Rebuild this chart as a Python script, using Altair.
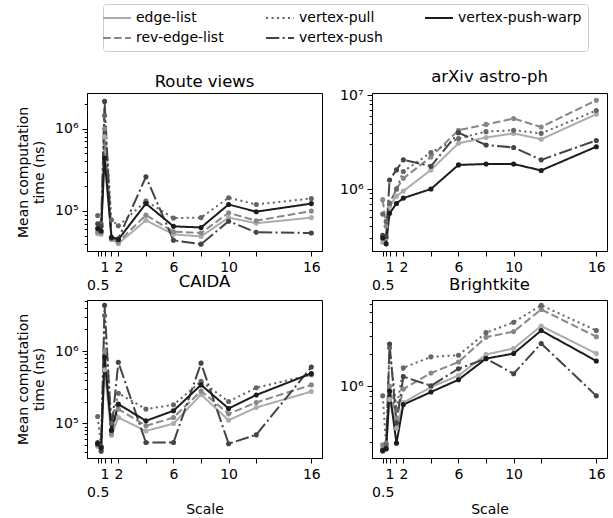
import altair as alt
import pandas as pd

# ---------------- data ----------------
X = [0.5, 0.75, 1, 1.5, 2, 4, 6, 8, 10, 12, 16]
SERIES = ["edge-list", "rev-edge-list", "vertex-pull", "vertex-push", "vertex-push-warp"]
PANELS = ["Route views", "arXiv astro-ph", "CAIDA", "Brightkite"]
X_LABELS = [1, 2, 6, 10, 16]

route_edge_list = [5.3e4, 5.2e4, 8.0e5, 4.5e4, 4.0e4, 7.7e4, 5.2e4, 4.9e4, 8.3e4, 7.1e4, 8.3e4]
route_rev_edge_list = [5.6e4, 5.5e4, 1.0e6, 4.6e4, 4.2e4, 8.9e4, 5.6e4, 5.4e4, 9.5e4, 7.6e4, 1.0e5]
route_vertex_pull = [8.8e4, 7.0e4, 1.45e6, 7.8e4, 6.6e4, 1.32e5, 8.2e4, 8.3e4, 1.45e5, 1.2e5, 1.42e5]
route_vertex_push = [7.0e4, 6.5e4, 2.15e6, 4.7e4, 4.6e4, 2.6e5, 4.4e4, 3.95e4, 7.5e4, 5.5e4, 5.4e4]
route_vertex_push_warp = [6.1e4, 5.7e4, 4.4e5, 4.8e4, 4.5e4, 1.23e5, 6.5e4, 6.3e4, 1.2e5, 9.8e4, 1.23e5]

arxiv_edge_list = [2.7e5, 3.0e5, 6.5e5, 8.4e5, 9.5e5, 1.6e6, 3.08e6, 3.55e6, 3.93e6, 3.4e6, 6.3e6]
arxiv_rev_edge_list = [7.7e5, 4.0e5, 7.0e5, 1.0e6, 1.3e6, 2.2e6, 4.25e6, 4.9e6, 5.65e6, 4.6e6, 8.85e6]
arxiv_vertex_pull = [5.4e5, 4.5e5, 7.0e5, 1.0e6, 1.54e6, 2.45e6, 3.47e6, 4.1e6, 4.25e6, 3.93e6, 6.9e6]
arxiv_vertex_push = [3.2e5, 3.1e5, 1.25e6, 1.6e6, 2.05e6, 1.75e6, 4.0e6, 2.95e6, 2.78e6, 2.05e6, 3.3e6]
arxiv_vertex_push_warp = [3.0e5, 2.6e5, 5.5e5, 7.0e5, 8.0e5, 1.0e6, 1.81e6, 1.85e6, 1.85e6, 1.58e6, 2.83e6]

caida_edge_list = [4.8e4, 4.3e4, 5.5e5, 6.8e4, 1.2e5, 7.8e4, 9.9e4, 2.5e5, 1.1e5, 1.65e5, 2.75e5]
caida_rev_edge_list = [5.0e4, 4.5e4, 1.0e6, 7.2e4, 1.57e5, 9.2e4, 1.2e5, 2.8e5, 1.35e5, 1.94e5, 3.4e5]
caida_vertex_pull = [1.24e5, 4.8e4, 3.1e6, 1.0e5, 2.6e5, 1.57e5, 1.8e5, 3.8e5, 2.0e5, 3.1e5, 4.7e5]
caida_vertex_push = [5.4e4, 4.1e4, 4.3e6, 8.0e4, 7.0e5, 5.4e4, 5.4e4, 6.8e5, 5.2e4, 6.9e4, 6.0e5]
caida_vertex_push_warp = [5.2e4, 4.6e4, 8.2e5, 8.0e4, 1.84e5, 1.08e5, 1.49e5, 3.4e5, 1.6e5, 2.46e5, 4.9e5]

bk_edge_list = [2.6e5, 2.7e5, 7.5e5, 4.0e5, 7.0e5, 9.8e5, 1.26e6, 1.99e6, 2.27e6, 3.7e6, 2.03e6]
bk_rev_edge_list = [2.8e5, 2.9e5, 1.0e6, 5.0e5, 9.4e5, 1.33e6, 1.69e6, 2.9e6, 3.27e6, 5.3e6, 2.93e6]
bk_vertex_pull = [8.1e5, 2.8e5, 2.3e6, 6.0e5, 1.49e6, 1.89e6, 1.96e6, 3.2e6, 4.0e6, 5.8e6, 3.35e6]
bk_vertex_push = [2.5e5, 2.6e5, 2.5e6, 4.5e5, 1.23e6, 1.01e6, 1.46e6, 1.82e6, 1.31e6, 2.53e6, 8.1e5]
bk_vertex_push_warp = [2.45e5, 2.55e5, 9.0e5, 2.9e5, 6.7e5, 8.8e5, 1.15e6, 1.82e6, 2.03e6, 3.35e6, 1.73e6]

PANEL_DATA = {
    "Route views": [route_edge_list, route_rev_edge_list, route_vertex_pull, route_vertex_push, route_vertex_push_warp],
    "arXiv astro-ph": [arxiv_edge_list, arxiv_rev_edge_list, arxiv_vertex_pull, arxiv_vertex_push, arxiv_vertex_push_warp],
    "CAIDA": [caida_edge_list, caida_rev_edge_list, caida_vertex_pull, caida_vertex_push, caida_vertex_push_warp],
    "Brightkite": [bk_edge_list, bk_rev_edge_list, bk_vertex_pull, bk_vertex_push, bk_vertex_push_warp],
}

# ---------------- styling ----------------
Y_DOMAINS = {
    "Route views": [3.26e4, 2.72e6],
    "arXiv astro-ph": [2.18e5, 1.06e7],
    "CAIDA": [3.3e4, 5.1e6],
    "Brightkite": [2.1e5, 6.5e6],
}
COLORS = {"edge-list": "#acacac", "rev-edge-list": "#888888", "vertex-pull": "#666666",
          "vertex-push": "#444444", "vertex-push-warp": "#1c1c1c"}
DASHES = {"edge-list": [1, 0], "rev-edge-list": [7.7, 3.3], "vertex-pull": [2.1, 3.4],
          "vertex-push": [13.3, 3.3, 2.1, 3.3], "vertex-push-warp": [1, 0]}
FONT = "DejaVu Sans"
W, H = 235, 158

cscale = alt.Scale(domain=SERIES, range=[COLORS[s] for s in SERIES])
dscale = alt.Scale(domain=SERIES, range=[DASHES[s] for s in SERIES])

legend = alt.Legend(
    orient="none", legendX=16, legendY=-89, columns=3, title=None,
    symbolType="M-2,0H2", symbolSize=196, symbolStrokeWidth=2, symbolOpacity=1,
    labelFontSize=14, labelFont=FONT, labelColor="black", labelOffset=11,
    columnPadding=38, rowPadding=5, padding=6,
    strokeColor="#cccccc", fillColor="white", cornerRadius=3, labelLimit=300,
)

SUP = "['\u2070','\u00b9','\u00b2','\u00b3','\u2074','\u2075','\u2076','\u2077','\u2078','\u2079']"
Y_LABEL_EXPR = ("abs(log(datum.value)/LN10 - round(log(datum.value)/LN10)) < 1e-6 ? '10' + "
                + SUP + "[round(log(datum.value)/LN10)] : ''")
MAJOR_TEST = "abs(log(datum.value)/LN10 - round(log(datum.value)/LN10)) < 1e-6"
X_LABEL_EXPR = ("datum.value == 0.5 ? ['', '0.5'] : (indexof(" + str(X_LABELS)
                + ", datum.value) >= 0 ? '' + datum.value : '')")


def y_ticks(dom):
    vals = []
    for e in range(3, 9):
        for k in range(1, 10):
            v = k * 10 ** e
            if dom[0] <= v <= dom[1]:
                vals.append(v)
    return vals


def panel(name, left, bottom):
    rows = []
    for s, vals in zip(SERIES, PANEL_DATA[name]):
        for x, v in zip(X, vals):
            rows.append({"scale": x, "time": v, "series": s})
    df = pd.DataFrame(rows)
    dom = Y_DOMAINS[name]
    xaxis = alt.Axis(
        values=X, labelExpr=X_LABEL_EXPR, title="Scale" if bottom else None,
        tickSize=5, labelPadding=4, labelFontSize=14, labelLineHeight=18,
        labelOverlap=False, labelFlush=False, grid=False, titlePadding=3,
    )
    yaxis = alt.Axis(
        values=y_ticks(dom), labelExpr=Y_LABEL_EXPR,
        title=["Mean computation", "time (ns)"] if left else None,
        tickSize={"condition": {"test": MAJOR_TEST, "value": 5}, "value": 2.8},
        labelPadding=4, labelFontSize=14, labelOverlap=False, labelFlush=False,
        grid=False, titlePadding=8, titleLineHeight=16,
    )
    xenc = alt.X("scale:Q", scale=alt.Scale(domain=[-0.275, 16.775], nice=False, zero=False), axis=xaxis)
    yenc = alt.Y("time:Q", scale=alt.Scale(type="log", domain=dom, nice=False), axis=yaxis)
    base = alt.Chart(df)
    line = base.mark_line(strokeWidth=2).encode(
        x=xenc, y=yenc,
        color=alt.Color("series:N", scale=cscale, legend=legend),
        strokeDash=alt.StrokeDash("series:N", scale=dscale, legend=legend),
    )
    pts = base.mark_point(filled=True, size=26, opacity=1).encode(
        x=xenc, y=yenc,
        color=alt.Color("series:N", scale=cscale, legend=None),
    )
    return alt.layer(line, pts).properties(
        width=W, height=H,
        title=alt.TitleParams(name, fontSize=16.5, font=FONT, fontWeight="normal",
                              anchor="middle", baseline="bottom", offset=5, dy=18,
                              color="black"),
    )


chart = alt.concat(
    panel("Route views", True, False),
    panel("arXiv astro-ph", False, False),
    panel("CAIDA", True, True),
    panel("Brightkite", False, True),
    columns=2,
    spacing=alt.RowColnumber(row=49, column=50),
    bounds="flush",
).resolve_scale(
    x="independent", y="independent", color="shared", strokeDash="shared"
).properties(
    padding={"left": 16, "top": 3, "right": 5, "bottom": 5}
).configure(
    font=FONT
).configure_axis(
    labelFont=FONT, titleFont=FONT, labelColor="black", titleColor="black",
    tickColor="black", domainColor="black", domainWidth=1, tickWidth=1,
    titleFontSize=14, titleFontWeight="normal",
).configure_view(
    stroke="black", strokeWidth=1
)

chart.save("out.html", embed_options={"renderer": "svg", "actions": False})
